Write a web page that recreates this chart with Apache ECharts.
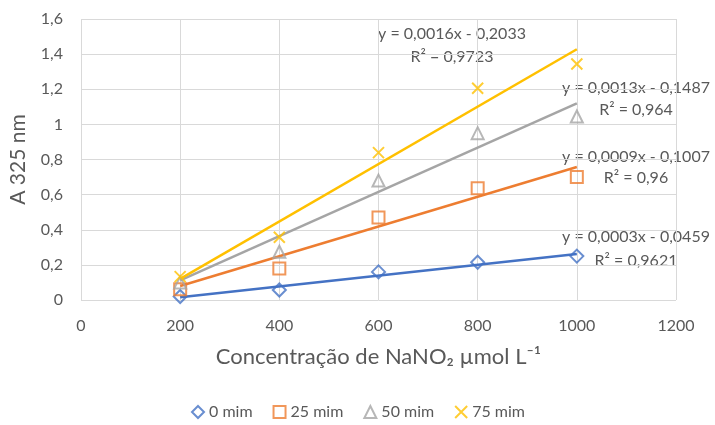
<!DOCTYPE html>
<html>
<head>
<meta charset="utf-8">
<script src="https://cdn.jsdelivr.net/npm/echarts@6/dist/echarts.min.js"></script>
<style>
  html, body { margin: 0; padding: 0; background: #fff; }
  #chart { width: 715px; height: 425px; }
</style>
</head>
<body>
<div id="chart"></div>
<script>
// concentração (x) e absorbância
var conc = [200, 400, 600, 800, 1000];
var abs0 = [0.02, 0.057, 0.16, 0.215, 0.25];
var abs25 = [0.061, 0.18, 0.47, 0.636, 0.70];
var abs50 = [0.10, 0.275, 0.68, 0.95, 1.045];
var abs75 = [0.133, 0.357, 0.839, 1.206, 1.344];

// linhas de tendência: valores nas pontas (x=200 e x=1000)
var trendX = [200, 1000];
var trend0 = [0.015, 0.262];
var trend25 = [0.08, 0.757];
var trend50 = [0.112, 1.12];
var trend75 = [0.12, 1.428];

var names = ['0 mim', '25 mim', '50 mim', '75 mim'];
var colors = ['#4472C4', '#ED7D31', '#A5A5A5', '#FFC000'];
var eqs = [
  ['y = 0,0003x - 0,0459', 'R² = 0,9621'],
  ['y = 0,0009x - 0,1007', 'R² = 0,96'],
  ['y = 0,0013x - 0,1487', 'R² = 0,964'],
  ['y = 0,0016x - 0,2033', 'R² = 0,9723']
];

function pares(xs, ys) {
  var out = [];
  for (var i = 0; i < xs.length; i++) out.push([xs[i], ys[i]]);
  return out;
}

var txt = '#595959';
var font = 'Lato, "Open Sans", sans-serif';
var xMark = 'path://M0,0L10,10M10,0L0,10';

var pontos = [abs0, abs25, abs50, abs75];
var tend = [trend0, trend25, trend50, trend75];
var simbolos = ['diamond', 'rect', 'triangle', xMark];

var series = [];
for (var k = 0; k < 4; k++) {
  series.push({
    name: names[k] + ' trend',
    type: 'line',
    data: pares(trendX, tend[k]),
    symbol: 'none',
    lineStyle: { color: colors[k], width: 2.5 },
    silent: true,
    z: 2
  });
}
for (var k = 0; k < 4; k++) {
  series.push({
    name: names[k],
    type: 'scatter',
    data: pares(conc, pontos[k]),
    symbol: simbolos[k],
    symbolSize: k == 3 ? 11 : (k == 0 ? 13 : 12),
    itemStyle: {
      color: 'rgba(255,255,255,0)',
      borderColor: colors[k],
      borderWidth: 2
    },
    z: 3
  });
}

// posições dos textos das equações
var eqPos = [[636, 237, 261], [636, 157, 178], [636, 88, 110], [452, 34, 57]];
var graphics = [];
for (var k = 0; k < 4; k++) {
  for (var j = 0; j < 2; j++) {
    graphics.push({
      type: 'text',
      x: eqPos[k][0],
      y: eqPos[k][j + 1],
      style: {
        text: eqs[k][j],
        fill: txt,
        font: '16px ' + font,
        textAlign: 'center',
        textVerticalAlign: 'middle'
      }
    });
  }
}

var chart = echarts.init(document.getElementById('chart'));
var option = {
  animation: false,
  backgroundColor: '#fff',
  grid: { left: 81, right: 39, top: 19, bottom: 125 },
  xAxis: {
    type: 'value',
    min: 0,
    max: 1200,
    interval: 200,
    name: 'Concentração de NaNO₂ µmol L⁻¹',
    nameLocation: 'middle',
    nameGap: 46,
    nameTextStyle: { color: txt, fontSize: 22, fontFamily: font },
    axisLine: { show: false },
    axisTick: { show: false },
    axisLabel: {
      color: txt, fontSize: 16, fontFamily: font, margin: 18,
      formatter: function (v) { return String(v); }
    },
    splitLine: { lineStyle: { color: '#d9d9d9', width: 1 } }
  },
  yAxis: {
    type: 'value',
    min: 0,
    max: 1.6,
    interval: 0.2,
    name: 'A 325 nm',
    nameLocation: 'middle',
    nameGap: 52,
    nameTextStyle: { color: txt, fontSize: 21, fontFamily: font },
    axisLine: { show: false },
    axisTick: { show: false },
    axisLabel: {
      color: txt, fontSize: 16, fontFamily: font, margin: 18,
      formatter: function (v) { return String(Math.round(v * 10) / 10).replace('.', ','); }
    },
    splitLine: { lineStyle: { color: '#d9d9d9', width: 1 } }
  },
  legend: {
    data: names,
    top: 399,
    left: 186,
    itemWidth: 12,
    itemHeight: 12,
    itemGap: 20,
    textStyle: { color: txt, fontSize: 16, fontFamily: font }
  },
  graphic: graphics,
  series: series
};
chart.setOption(option);
</script>
</body>
</html>
